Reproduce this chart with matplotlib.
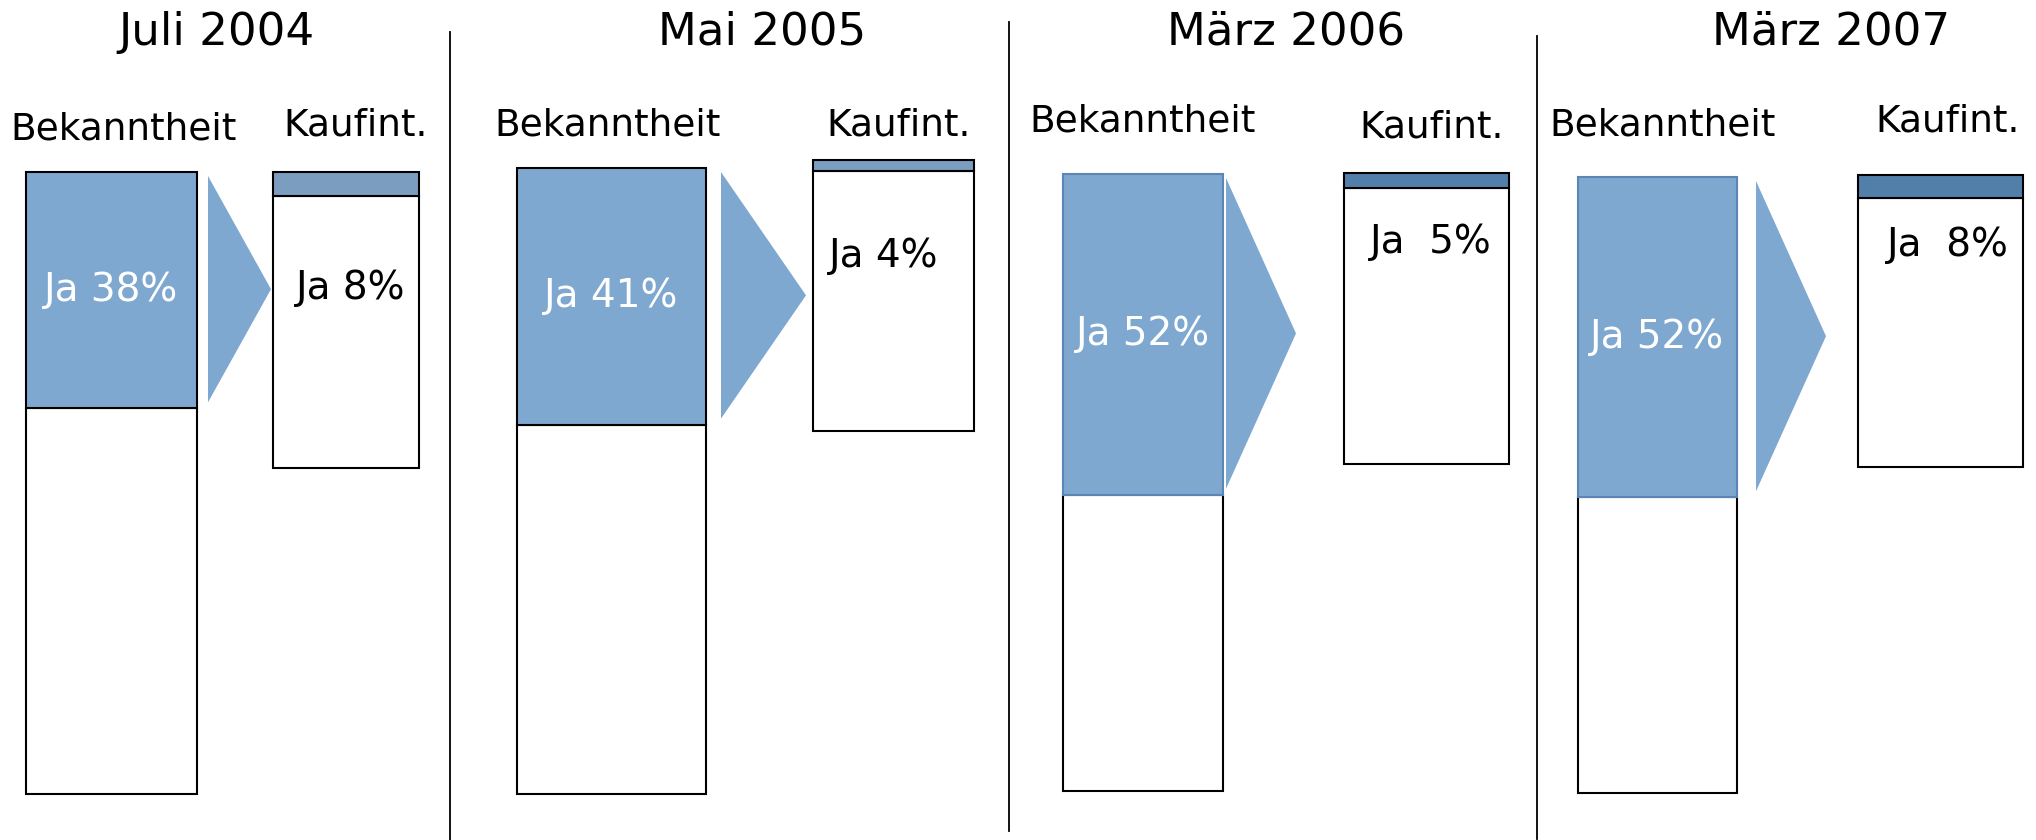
import matplotlib
matplotlib.use("Agg")
import matplotlib.pyplot as plt
from matplotlib.patches import Polygon

# data
periods = ["Juli 2004", "Mai 2005", "März 2006", "März 2007"]
bekanntheit = [38, 41, 52, 52]
kaufint = [8, 4, 5, 8]
bek_labels = ["Ja 38%", "Ja 41%", "Ja 52%", "Ja 52%"]
kauf_labels = ["Ja 8%", "Ja 4%", "Ja  5%", "Ja  8%"]

# layout (pixel coordinates, y downwards)
bek_x = [26, 517, 1063, 1578]
bek_w = [171, 189, 160, 159]
bek_top = [172, 168, 174, 177]
bek_bottom = [794, 794, 791, 793]
kauf_x = [273, 813, 1344, 1858]
kauf_w = [146, 161, 165, 165]
kauf_top = [172, 160, 173, 175]
kauf_bottom = [468, 431, 464, 467]
arrow_x0 = [208, 721, 1226, 1756]
arrow_x1 = [271, 806, 1296, 1826]
title_x = [216, 762, 1286, 1831]
bek_lab_x = [124, 608, 1143, 1663]
bek_lab_y = [130, 125, 121, 126]
kauf_lab_x = [356, 899, 1432, 1948]
kauf_lab_y = [126, 126, 127, 122]
kauf_txt_x = [351, 884, 1431, 1948]
kauf_txt_y = [288, 256, 242, 245]
div_x = [450, 1009, 1537]
div_y = [(32, 840), (22, 831), (36, 839)]

fill = "#7fa8d0"
bek_edge = ["black", "black", "#5a85b5", "#5a85b5"]
strip_col = ["#7b9dc0", "#7b9dc0", "#527faa", "#527faa"]

fig = plt.figure(figsize=(20.36, 8.4), dpi=100)
ax = fig.add_axes([0, 0, 1, 1])
ax.set_xlim(0, 2036)
ax.set_ylim(840, 0)
ax.axis("off")

for i in range(4):
    h = bek_bottom[i] - bek_top[i]
    blue_h = h * bekanntheit[i] / 100
    ax.bar(bek_x[i], h - blue_h, bek_w[i], bottom=bek_top[i] + blue_h, align="edge",
           facecolor="white", edgecolor="black", lw=1.5)
    ax.bar(bek_x[i], blue_h, bek_w[i], bottom=bek_top[i], align="edge",
           facecolor=fill, edgecolor=bek_edge[i], lw=1.5)
    ax.text(bek_x[i] + bek_w[i] / 2, bek_top[i] + blue_h / 2, bek_labels[i],
            color="white", fontsize=28, ha="center", va="center")

    # arrow next to the blue part
    a_top = bek_top[i] + 4
    a_bot = bek_top[i] + blue_h - 6
    ax.add_patch(Polygon([[arrow_x0[i], a_top], [arrow_x1[i], (a_top + a_bot) / 2],
                          [arrow_x0[i], a_bot]], closed=True, facecolor=fill, edgecolor="none"))

    kh = kauf_bottom[i] - kauf_top[i]
    strip_h = kh * kaufint[i] / 100
    ax.bar(kauf_x[i], kh - strip_h, kauf_w[i], bottom=kauf_top[i] + strip_h, align="edge",
           facecolor="white", edgecolor="black", lw=1.5)
    ax.bar(kauf_x[i], strip_h, kauf_w[i], bottom=kauf_top[i], align="edge",
           facecolor=strip_col[i], edgecolor="black", lw=1.5)
    ax.text(kauf_txt_x[i], kauf_txt_y[i], kauf_labels[i], color="black", fontsize=28,
            ha="center", va="center")

    ax.text(title_x[i], 32, periods[i], fontsize=32.5, ha="center", va="center")
    ax.text(bek_lab_x[i], bek_lab_y[i], "Bekanntheit", fontsize=27, ha="center", va="center")
    ax.text(kauf_lab_x[i], kauf_lab_y[i], "Kaufint.", fontsize=27, ha="center", va="center")

for x, (y0, y1) in zip(div_x, div_y):
    ax.plot([x, x], [y0, y1], color="black", lw=1.3)

fig.savefig("out.png", dpi=100)
